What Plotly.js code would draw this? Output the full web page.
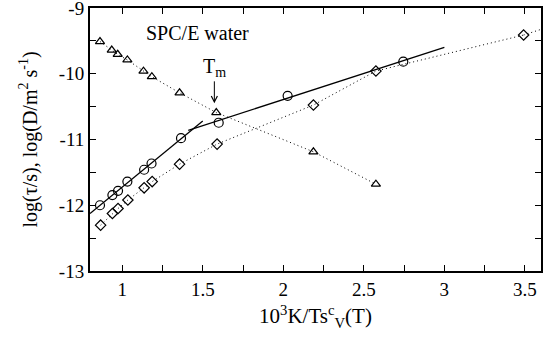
<!DOCTYPE html>
<html><head><meta charset="utf-8">
<script src="https://cdn.plot.ly/plotly-3.0.1.min.js"></script>
<style>html,body{margin:0;padding:0;background:#fff;}#plot{width:552px;height:339px;}</style>
</head><body><div id="plot"></div>
<script>
// Triangles (dotted)
const triX = [0.862, 0.935, 0.972, 1.032, 1.132, 1.184, 1.356, 1.584, 2.187, 2.575];
const triY = [-9.51, -9.64, -9.705, -9.79, -9.96, -10.045, -10.29, -10.59, -11.187, -11.68];
// Circles
const circX = [0.862, 0.939, 0.974, 1.032, 1.136, 1.182, 1.365, 1.599, 2.027, 2.745];
const circY = [-12.0, -11.846, -11.78, -11.64, -11.46, -11.365, -10.98, -10.745, -10.335, -9.817];
// Diamonds (dotted)
const diaX = [0.866, 0.939, 0.974, 1.035, 1.136, 1.186, 1.356, 1.589, 2.187, 2.575, 3.492];
const diaY = [-12.303, -12.125, -12.05, -11.92, -11.735, -11.64, -11.375, -11.07, -10.476, -9.959, -9.411];
const diaExtX = [3.492, 3.6];
const diaExtY = [-9.411, -9.325];
// Solid fit lines
const fitLowX = [0.8, 1.5];
const fitLowY = [-12.125, -10.72];
const fitHighX = [1.41, 3.0];
const fitHighY = [-10.86, -9.6];
// Ticks (labelled ones and unlabelled ones)
const xTickVals = [1, 1.25, 1.5, 1.75, 2, 2.25, 2.5, 2.75, 3, 3.25, 3.5];
const xTickText = ["1", "", "1.5", "", "2", "", "2.5", "", "3", "", "3.5"];
const yTickVals = [-13, -12.5, -12, -11.5, -11, -10.5, -10, -9.5, -9];
const yTickText = ["-13", "", "-12", "", "-11", "", "-10", "", "-9"];
const tmX = 1.572, tmY = -10.45;

const serifFam = "Liberation Serif";
const dotted = {color: '#000', width: 1, dash: '1px,3px'};
const traces = [
  {x: triX, y: triY, mode: 'lines+markers', line: dotted,
   marker: {symbol: 'triangle-up-open', size: 8, color: '#000', line: {width: 1.2}}},
  {x: diaX, y: diaY, mode: 'lines+markers', line: dotted,
   marker: {symbol: 'diamond-open', size: 8, color: '#000', line: {width: 1.2}}},
  {x: diaExtX, y: diaExtY, mode: 'lines', line: dotted},
  {x: fitLowX, y: fitLowY, mode: 'lines', line: {color: '#000', width: 1.3}},
  {x: fitHighX, y: fitHighY, mode: 'lines', line: {color: '#000', width: 1.3}},
  {x: circX, y: circY, mode: 'markers',
   marker: {symbol: 'circle-open', size: 9, color: '#000', line: {width: 1.2}}}
];
const layout = {
  width: 552, height: 339,
  margin: {l: 90, r: 11, t: 8, b: 68},
  font: {family: serifFam, size: 18, color: '#000'},
  showlegend: false,
  xaxis: {
    range: [0.8, 3.6], tickmode: 'array', tickvals: xTickVals, ticktext: xTickText,
    showgrid: false, zeroline: false, showline: true, linecolor: '#000', linewidth: 2,
    mirror: 'ticks', ticks: 'inside', ticklen: 6, tickcolor: '#000',
    tickfont: {family: serifFam, size: 19, color: '#000'}, ticklabeloverflow: 'allow',
    title: {text: '10<sup>3</sup>K/Ts<sup>c</sup><sub>V</sub>(T)', font: {family: serifFam, size: 21, color: '#000'}, standoff: 10}
  },
  yaxis: {
    range: [-13, -9], tickmode: 'array', tickvals: yTickVals, ticktext: yTickText,
    showgrid: false, zeroline: false, showline: true, linecolor: '#000', linewidth: 2,
    mirror: 'ticks', ticks: 'inside', ticklen: 6, tickcolor: '#000',
    tickfont: {family: serifFam, size: 19, color: '#000'}, ticklabeloverflow: 'allow',
    title: {text: 'log(τ/s), log(D/m<sup>2</sup> s<sup>-1</sup>)', font: {family: serifFam, size: 20, color: '#000'}, standoff: 16}
  },
  annotations: [
    {x: 1.47, y: -9.38, xref: 'x', yref: 'y', text: 'SPC/E water', showarrow: false,
     font: {family: serifFam, size: 20, color: '#000'}},
    {x: tmX, y: tmY, xref: 'x', yref: 'y', text: 'T<sub>m</sub>', showarrow: true,
     ax: 0, ay: -36, arrowhead: 5, arrowsize: 1.2, arrowwidth: 1, arrowcolor: '#000',
     font: {family: serifFam, size: 20, color: '#000'}}
  ]
};
Plotly.newPlot('plot', traces, layout, {staticPlot: true});
</script></body></html>
